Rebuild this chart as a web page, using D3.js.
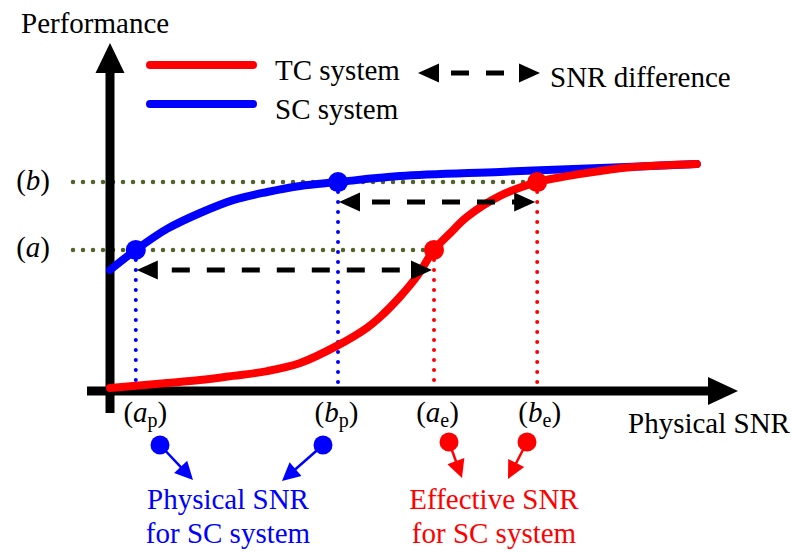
<!DOCTYPE html>
<html>
<head>
<meta charset="utf-8">
<script src="https://cdn.jsdelivr.net/npm/d3@7"></script>
<style>
  html, body { margin: 0; padding: 0; background: #fff; }
  svg { display: block; }
  text { font-family: "Liberation Serif", "Times New Roman", serif; }
</style>
</head>
<body>
<svg id="chart" width="792" height="552"></svg>
<script>
// Performance vs. physical SNR (arbitrary units, 0-100 on both axes)
const scCurve = [
  [0, 40], [4.3, 46.7], [9.5, 53.7], [15, 59], [20.5, 63.3], [26.2, 66],
  [31.7, 68], [38, 69.3], [48.3, 71.3], [65, 72.7], [81.7, 74], [97.8, 75.3]
];
const tcCurve = [
  [0, 0.7], [9.5, 2.3], [15, 3.3], [20.5, 4.7], [26.2, 6.3], [31.7, 9],
  [37.8, 14.7], [42.8, 20.7], [45, 24.3], [48.3, 31], [51.2, 38], [54, 46.7],
  [56.7, 52.3], [59.5, 57.7], [65, 64.7], [71.2, 69.3], [76.2, 71.3],
  [81.7, 73], [87.2, 74.3], [97.8, 75.3]
];
// Target performance levels (a) and (b)
const levelNames = ["a", "b"];
const levelValues = [46.7, 69.3];
// SNR needed to reach each level: SC system (physical) and TC system (effective)
const physicalSnr = [4.3, 38];
const effectiveSnr = [54, 71.2];
const legendLabels = ["TC system", "SC system"];
const legendColors = ["#ff0000", "#0000ff"];

const BLUE = "#0000ff", RED = "#ff0000", OLIVE = "#4f6228";
const FONT = 29;
const SERIF = "'Liberation Serif', 'Times New Roman', serif";

const svg = d3.select("#chart");
svg.append("rect").attr("width", 792).attr("height", 552).attr("fill", "#fff");

const x = d3.scaleLinear().domain([0, 100]).range([110, 710]);
const y = d3.scaleLinear().domain([0, 100]).range([390, 90]);

function label(g, px, py, str) {
  return g.append("text").attr("x", px).attr("y", py)
    .attr("font-family", SERIF).attr("font-size", FONT).attr("fill", "#000").text(str);
}

// filled triangle whose tip sits at (tx, ty), pointing along angle (radians)
function head(g, tx, ty, angle, len, half, color) {
  const c = Math.cos(angle), s = Math.sin(angle);
  const bx = tx - c * len, by = ty - s * len;
  const pts = [[tx, ty], [bx - s * half, by + c * half], [bx + s * half, by - c * half]];
  g.append("polygon").attr("points", pts.map(p => p.join(",")).join(" ")).attr("fill", color);
}

// ---- guide lines ----
const guides = svg.append("g");
levelValues.forEach((v, i) => {
  guides.append("line")
    .attr("x1", 73).attr("x2", x(effectiveSnr[i])).attr("y1", y(v)).attr("y2", y(v))
    .attr("stroke", OLIVE).attr("stroke-width", 4.5)
    .attr("stroke-linecap", "round").attr("stroke-dasharray", "0 10");
  guides.append("line")
    .attr("x1", x(physicalSnr[i])).attr("x2", x(physicalSnr[i]))
    .attr("y1", y(v) + 10).attr("y2", y(0) - 2)
    .attr("stroke", BLUE).attr("stroke-width", 4)
    .attr("stroke-linecap", "round").attr("stroke-dasharray", "0 10");
  guides.append("line")
    .attr("x1", x(effectiveSnr[i])).attr("x2", x(effectiveSnr[i]))
    .attr("y1", y(v) + 10).attr("y2", y(0) - 2)
    .attr("stroke", RED).attr("stroke-width", 4)
    .attr("stroke-linecap", "round").attr("stroke-dasharray", "0 10");
});

// ---- axes (arrows) ----
const axes = svg.append("g");
axes.append("line").attr("x1", 110).attr("x2", 110).attr("y1", 413).attr("y2", 70)
  .attr("stroke", "#000").attr("stroke-width", 9);
head(axes, 110, 43, -Math.PI / 2, 30, 14.5, "#000");
axes.append("line").attr("x1", 87).attr("x2", 710).attr("y1", 391).attr("y2", 391)
  .attr("stroke", "#000").attr("stroke-width", 9);
head(axes, 738, 391, 0, 30, 14, "#000");

// ---- curves ----
const line = d3.line().x(d => x(d[0])).y(d => y(d[1])).curve(d3.curveCatmullRom.alpha(0.5));
svg.append("path").datum(scCurve).attr("d", line)
  .attr("fill", "none").attr("stroke", BLUE).attr("stroke-width", 8).attr("stroke-linecap", "round");
svg.append("path").datum(tcCurve).attr("d", line)
  .attr("fill", "none").attr("stroke", RED).attr("stroke-width", 8).attr("stroke-linecap", "round");

// ---- operating points ----
svg.append("g").selectAll("circle").data(levelValues).join("circle")
  .attr("cx", (v, i) => x(physicalSnr[i])).attr("cy", v => y(v)).attr("r", 10).attr("fill", BLUE);
svg.append("g").selectAll("circle").data(levelValues).join("circle")
  .attr("cx", (v, i) => x(effectiveSnr[i])).attr("cy", v => y(v)).attr("r", 10).attr("fill", RED);

// ---- SNR difference arrows ----
function dashedArrow(g, x1, x2, yy, offset) {
  g.append("line").attr("x1", x1 + 10).attr("x2", x2 - 10).attr("y1", yy).attr("y2", yy)
    .attr("stroke", "#000").attr("stroke-width", 5)
    .attr("stroke-dasharray", "18 17").attr("stroke-dashoffset", offset);
  head(g, x1, yy, Math.PI, 21, 9.5, "#000");
  head(g, x2, yy, 0, 21, 9.5, "#000");
}
const diff = svg.append("g");
levelValues.forEach((v, i) => {
  dashedArrow(diff, x(physicalSnr[i]) + 1, x(effectiveSnr[i]) - 2, y(v) + 20, i === 0 ? 10 : 12);
});

// ---- x tick labels (a_p, b_p, a_e, b_e) ----
const tickVals = physicalSnr.concat(effectiveSnr);
const tickSubs = ["p", "p", "e", "e"];
const tickShift = [9, -2, 3, 2];
const xAxis = svg.append("g").attr("transform", "translate(0,391)")
  .call(d3.axisBottom(x).tickValues(tickVals).tickSize(0).tickFormat(""));
xAxis.select(".domain").remove();
xAxis.selectAll(".tick text").each(function (d, i) {
  const t = d3.select(this).attr("y", 31).attr("dy", null).attr("x", tickShift[i])
    .attr("font-family", SERIF).attr("font-size", FONT).attr("fill", "#000");
  t.append("tspan").text("(");
  t.append("tspan").attr("font-style", "italic").text(levelNames[i % 2]);
  t.append("tspan").attr("font-size", 20).attr("dy", 5).text(tickSubs[i]);
  t.append("tspan").attr("dy", -5).text(")");
});

// ---- y tick labels (a), (b) ----
const yAxis = svg.append("g").attr("transform", "translate(50,0)")
  .call(d3.axisLeft(y).tickValues(levelValues).tickSize(0).tickPadding(0).tickFormat(""));
yAxis.select(".domain").remove();
yAxis.selectAll(".tick text").each(function (d, i) {
  const t = d3.select(this).attr("dy", 7).attr("x", 0)
    .attr("font-family", SERIF).attr("font-size", FONT).attr("fill", "#000");
  t.append("tspan").text("(");
  t.append("tspan").attr("font-style", "italic").text(levelNames[i]);
  t.append("tspan").text(")");
});

// ---- axis titles ----
label(svg, 21, 33, "Performance");
label(svg, 628, 433, "Physical SNR");

// ---- legend ----
const legend = svg.append("g");
legendLabels.forEach((lab, i) => {
  const ly = 65 + i * 39;
  legend.append("line").attr("x1", 150).attr("x2", 253).attr("y1", ly).attr("y2", ly)
    .attr("stroke", legendColors[i]).attr("stroke-width", 8).attr("stroke-linecap", "round");
  label(legend, 275, ly + 15, lab);
});
dashedArrow(legend, 418, 540, 73, 12);
label(legend, 550, 87, "SNR difference");

// ---- call-outs below the axis ----
const callouts = [
  { cx: 160, cy: 445, tx: 193, ty: 480, color: BLUE },
  { cx: 323, cy: 445, tx: 282, ty: 481, color: BLUE },
  { cx: 449, cy: 442, tx: 462, ty: 478, color: RED },
  { cx: 527, cy: 442, tx: 508, ty: 479, color: RED }
];
const co = svg.append("g");
callouts.forEach(c => {
  const ang = Math.atan2(c.ty - c.cy, c.tx - c.cx);
  const len = 18;
  co.append("line").attr("x1", c.cx).attr("y1", c.cy)
    .attr("x2", c.tx - Math.cos(ang) * (len - 2)).attr("y2", c.ty - Math.sin(ang) * (len - 2))
    .attr("stroke", c.color).attr("stroke-width", 2.5);
  head(co, c.tx, c.ty, ang, len, 9, c.color);
  co.append("circle").attr("cx", c.cx).attr("cy", c.cy).attr("r", 9.5).attr("fill", c.color);
});
const notes = [
  { x: 228, lines: ["Physical SNR", "for SC system"], color: BLUE },
  { x: 494, lines: ["Effective SNR", "for SC system"], color: RED }
];
notes.forEach(n => {
  n.lines.forEach((l, j) => {
    label(svg, n.x, 509 + j * 34, l).attr("text-anchor", "middle").attr("fill", n.color);
  });
});
</script>
</body>
</html>
